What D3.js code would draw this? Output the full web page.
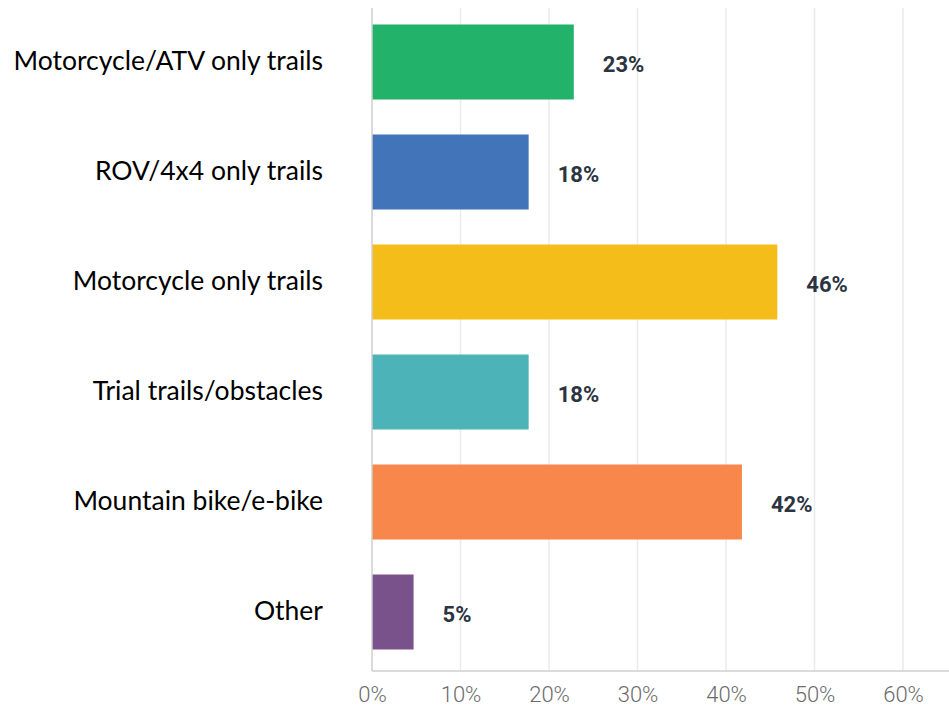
<!DOCTYPE html>
<html><head><meta charset="utf-8">
<script src="https://cdn.jsdelivr.net/npm/d3@7"></script>
<style>body{margin:0;background:#fff}svg{display:block}</style>
</head><body>
<script>
const categories = ["Motorcycle/ATV only trails","ROV/4x4 only trails","Motorcycle only trails","Trial trails/obstacles","Mountain bike/e-bike","Other"];
const values = [22.8, 17.7, 45.8, 17.7, 41.8, 4.7];
const valueLabels = ["23%","18%","46%","18%","42%","5%"];
const colors = ["#23b26a","#4174b8","#f5bd19","#4cb3b9","#f7874b","#7a528b"];
const ticks = [0,10,20,30,40,50,60];

const W = 949, H = 707;
const svg = d3.select("body").append("svg").attr("width", W).attr("height", H);
const x = d3.scaleLinear().domain([0, 10]).range([372, 460.5]);
const y = d3.scaleBand().domain(categories).range([7, 667]).paddingInner(35/110).paddingOuter(35/220);

// gridlines
svg.append("g").selectAll("line").data(ticks.slice(1)).join("line")
  .attr("x1", d => x(d)).attr("x2", d => x(d)).attr("y1", 8).attr("y2", 671)
  .attr("stroke", "#ebebeb").attr("stroke-width", 1.5);

// bars
svg.append("g").selectAll("rect").data(categories).join("rect")
  .attr("x", x(0)).attr("y", d => y(d))
  .attr("width", (d,i) => x(values[i]) - x(0)).attr("height", y.bandwidth())
  .attr("fill", (d,i) => colors[i]);

// axes lines
svg.append("line").attr("x1", x(0)).attr("x2", x(0)).attr("y1", 8).attr("y2", 671).attr("stroke", "#cfcfcf").attr("stroke-width", 1.5);
svg.append("line").attr("x1", x(0)).attr("x2", W).attr("y1", 671).attr("y2", 671).attr("stroke", "#cfcfcf").attr("stroke-width", 1.5);

// x ticks
const xAxis = d3.axisBottom(x).tickValues(ticks).tickFormat(d => d + "%").tickSize(0).tickPadding(0);
const gx = svg.append("g").attr("transform", "translate(0,702)").call(xAxis);
gx.select(".domain").remove();
gx.selectAll("text").attr("fill", "#6b6b6b").attr("font-family", "Roboto, sans-serif").attr("font-weight", 300).attr("font-size", 22).attr("dy", 0);

// category labels
const yAxis = d3.axisLeft(y).tickSize(0).tickPadding(0);
const gy = svg.append("g").attr("transform", "translate(323,0)").call(yAxis);
gy.select(".domain").remove();
gy.selectAll("text").attr("fill", "#000").attr("font-family", "Lato, sans-serif").attr("font-size", 26.5).attr("dy", "0.3em");

// value labels
svg.append("g").selectAll("text").data(categories).join("text")
  .attr("x", (d,i) => x(values[i]) + 29).attr("y", d => y(d) + y.bandwidth()/2)
  .attr("dy", "0.45em")
  .attr("fill", "#2b3440").attr("font-family", "Roboto, sans-serif").attr("font-weight", 700).attr("font-size", 22)
  .text((d,i) => valueLabels[i]);
</script>
</body></html>
